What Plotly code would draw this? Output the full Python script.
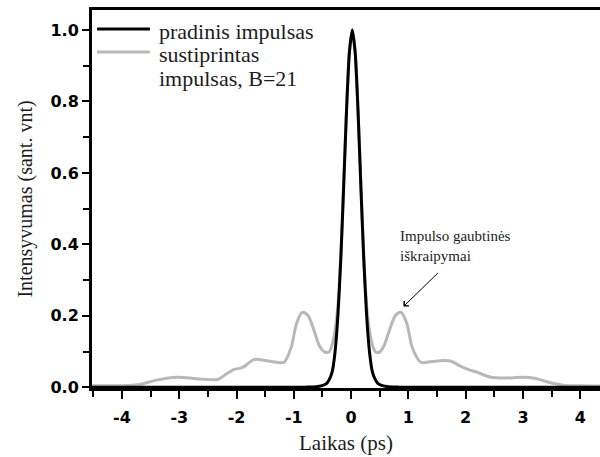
import plotly.graph_objects as go

# ---- data ----
t_orig = [-4.6, -0.9, -0.78, -0.68, -0.58, -0.48, -0.43, -0.38, -0.33, -0.28, -0.23, -0.18,
          -0.13, -0.08, -0.03, 0.02, 0.07, 0.12, 0.17, 0.22, 0.27, 0.32, 0.37, 0.42,
          0.47, 0.52, 0.62, 0.72, 0.82, 0.92, 4.6]
y_orig = [0.0, 0.0, 0.0005, 0.001, 0.002, 0.006, 0.01, 0.022, 0.044, 0.10, 0.203, 0.36,
          0.563, 0.775, 0.938, 1.0, 0.938, 0.775, 0.563, 0.36, 0.203, 0.10, 0.044, 0.022,
          0.01, 0.006, 0.002, 0.001, 0.0005, 0.0, 0.0]

t_amp = [-4.6, -3.9, -3.68, -3.4, -3.03, -2.7, -2.33, -2.2, -2.04, -1.9, -1.69, -1.5,
         -1.3, -1.17, -1.05, -0.95, -0.85, -0.75, -0.65, -0.55, -0.45, -0.38, -0.33,
         -0.28, -0.23, -0.18, -0.13, -0.08, -0.03, 0.02, 0.07, 0.12, 0.17, 0.22, 0.27,
         0.32, 0.37, 0.42, 0.49, 0.57, 0.67, 0.77, 0.87, 0.97, 1.07, 1.22, 1.4, 1.6,
         1.75, 1.9, 2.04, 2.2, 2.44, 2.7, 3.0, 3.2, 3.5, 3.7, 4.0, 4.6]
y_amp = [0.004, 0.005, 0.008, 0.02, 0.028, 0.024, 0.022, 0.035, 0.05, 0.055, 0.078, 0.075,
         0.07, 0.07, 0.11, 0.18, 0.21, 0.2, 0.16, 0.115, 0.098, 0.10, 0.12,
         0.16, 0.23, 0.37, 0.57, 0.78, 0.94, 1.0, 0.94, 0.78, 0.57, 0.37, 0.23,
         0.16, 0.12, 0.10, 0.098, 0.115, 0.16, 0.2, 0.21, 0.18, 0.11, 0.07, 0.072, 0.075,
         0.073, 0.06, 0.05, 0.042, 0.028, 0.026, 0.028, 0.025, 0.012, 0.006, 0.004, 0.004]

x_tickvals = [-4, -3, -2, -1, 0, 1, 2, 3, 4]
x_ticktext = ["-4", "-3", "-2", "-1", "0", "1", "2", "3", "4"]
y_tickvals = [0.0, 0.2, 0.4, 0.6, 0.8, 1.0]
y_ticktext = ["0.0", "0.2", "0.4", "0.6", "0.8", "1.0"]

name_orig = "pradinis impulsas"
name_amp_lines = ["sustiprintas", "impulsas, B=21"]
x_title = "Laikas (ps)"
y_title = "Intensyvumas (sant. vnt)"
note_text = "Impulso gaubtinės<br>iškraipymai"

color_orig = "#000000"
color_amp = "#b8b8b8"
serif = "Liberation Serif"
sans = "DejaVu Sans"
text_color = "#1c1c1c"

fig = go.Figure()
fig.add_trace(go.Scatter(x=t_amp, y=y_amp, mode="lines", name=" ".join(name_amp_lines),
                         showlegend=False,
                         line=dict(color=color_amp, width=3, shape="spline", smoothing=0.8)))
fig.add_trace(go.Scatter(x=t_orig, y=y_orig, mode="lines", name=name_orig,
                         showlegend=False,
                         line=dict(color=color_orig, width=3, shape="spline", smoothing=0.6)))

fig.update_layout(
    width=600, height=457,
    margin=dict(l=92, r=0, t=10, b=69),
    paper_bgcolor="white", plot_bgcolor="white",
    xaxis=dict(range=[-4.524, 4.345], tickvals=x_tickvals, ticktext=x_ticktext,
               ticks="outside", ticklen=8, tickwidth=2, tickcolor="black",
               minor=dict(dtick=0.5, tick0=0, ticks="outside", ticklen=6, tickwidth=2, tickcolor="black"),
               showline=True, linewidth=3, linecolor="black", mirror=True,
               showgrid=False, zeroline=False, ticklabelstandoff=5,
               tickfont=dict(family=sans, size=16, color="black", weight="bold"),
               title=dict(text=x_title, font=dict(family=serif, size=21, color=text_color), standoff=10)),
    yaxis=dict(range=[-0.002, 1.056], tickvals=y_tickvals, ticktext=y_ticktext,
               ticks="outside", ticklen=7, tickwidth=2, tickcolor="black",
               minor=dict(dtick=0.1, tick0=0, ticks="outside", ticklen=6, tickwidth=2, tickcolor="black"),
               showline=True, linewidth=3, linecolor="black",
               showgrid=False, zeroline=False,
               tickfont=dict(family=sans, size=16, color="black", weight="bold"),
               title=dict(text=y_title, font=dict(family=serif, size=20, color=text_color), standoff=13)),
)

# legend drawn as keys + labels, placed in the upper-left corner of the plot
fig.add_shape(type="line", xref="paper", yref="paper", x0=0.01, x1=0.114, y0=0.9497, y1=0.9497,
              line=dict(color=color_orig, width=3))
fig.add_shape(type="line", xref="paper", yref="paper", x0=0.01, x1=0.114, y0=0.8889, y1=0.8889,
              line=dict(color=color_amp, width=3))
fig.add_annotation(x=0.128, y=0.944, xref="paper", yref="paper", text=name_orig, showarrow=False,
                   xanchor="left", yanchor="middle", font=dict(family=serif, size=22, color=text_color))
fig.add_annotation(x=0.128, y=0.881, xref="paper", yref="paper", text=name_amp_lines[0], showarrow=False,
                   xanchor="left", yanchor="middle", font=dict(family=serif, size=22, color=text_color))
fig.add_annotation(x=0.128, y=0.818, xref="paper", yref="paper", text=name_amp_lines[1], showarrow=False,
                   xanchor="left", yanchor="middle", font=dict(family=serif, size=22, color=text_color))

fig.add_annotation(x=0.825, y=0.395, xref="x", yref="y", text=note_text, showarrow=False,
                   xanchor="left", yanchor="middle", align="left",
                   font=dict(family=serif, size=15, color=text_color))
fig.add_annotation(x=0.913, y=0.226, xref="x", yref="y", text="", showarrow=True,
                   ax=36, ay=-35, arrowhead=4, arrowsize=1.3, arrowwidth=1, arrowcolor="black")

fig.write_html("out.html")
